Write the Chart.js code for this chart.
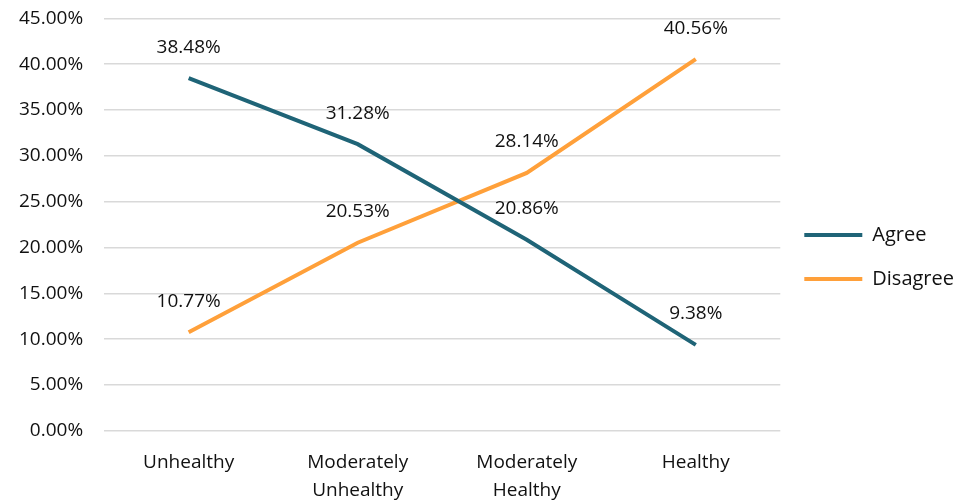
<!DOCTYPE html>
<html>
<head>
<meta charset="utf-8">
<script src="https://cdn.jsdelivr.net/npm/chart.js@4"></script>
<style>
  html, body { margin: 0; padding: 0; background: #fff; }
  #wrap { width: 964px; height: 502px; }
</style>
</head>
<body>
<div id="wrap"><canvas id="chart"></canvas></div>
<script>
const categories = [['Unhealthy'], ['Moderately', 'Unhealthy'], ['Moderately', 'Healthy'], ['Healthy']];
const agree = [38.48, 31.28, 20.86, 9.38];
const disagree = [10.77, 20.53, 28.14, 40.56];

const FONT = '"Open Sans", Lato, sans-serif';
Chart.defaults.font.family = FONT;
Chart.defaults.color = '#111';

// value labels above each point
const pointLabels = {
  id: 'pointLabels',
  afterDatasetsDraw(chart) {
    const ctx = chart.ctx;
    ctx.save();
    ctx.font = '19px ' + FONT;
    ctx.fillStyle = '#111';
    ctx.textAlign = 'center';
    ctx.textBaseline = 'middle';
    chart.data.datasets.forEach((ds, i) => {
      chart.getDatasetMeta(i).data.forEach((pt, j) => {
        ctx.fillText(ds.data[j].toFixed(2) + '%', pt.x, pt.y - 31);
      });
    });
    ctx.restore();
  }
};

const ctx = document.getElementById('chart').getContext('2d');
new Chart(ctx, {
  type: 'line',
  data: {
    labels: categories,
    datasets: [{
      label: 'Agree',
      data: agree,
      borderColor: '#1f6477',
      backgroundColor: '#1f6477',
      borderWidth: 4,
      pointRadius: 0,
      tension: 0
    },
    {
      label: 'Disagree',
      data: disagree,
      borderColor: '#ffa03a',
      backgroundColor: '#ffa03a',
      borderWidth: 4,
      pointRadius: 0,
      tension: 0
    }]
  },
  options: {
    responsive: true,
    maintainAspectRatio: false,
    animation: false,
    layout: { padding: { top: 0, right: 0, bottom: -12, left: 12 } },
    plugins: {
      tooltip: { enabled: false },
      legend: {
        position: 'right',
        labels: {
          usePointStyle: true,
          pointStyle: 'line',
          pointStyleWidth: 58,
          font: { size: 20 },
          padding: 24,
          color: '#111'
        }
      }
    },
    scales: {
      x: {
        offset: true,
        grid: { display: false },
        border: { display: false },
        ticks: { font: { size: 19, lineHeight: 1.45 }, color: '#111', maxRotation: 0, padding: 10 }
      },
      y: {
        min: 0,
        max: 45,
        grid: { color: '#d9d9d9', lineWidth: 1.5, drawTicks: true, tickLength: 14, tickColor: 'rgba(0,0,0,0)' },
        border: { display: false },
        ticks: {
          stepSize: 5,
          font: { size: 19 },
          color: '#111',
          padding: 7,
          callback: (val) => val.toFixed(2) + '%'
        }
      }
    }
  },
  plugins: [pointLabels]
});
</script>
</body>
</html>
